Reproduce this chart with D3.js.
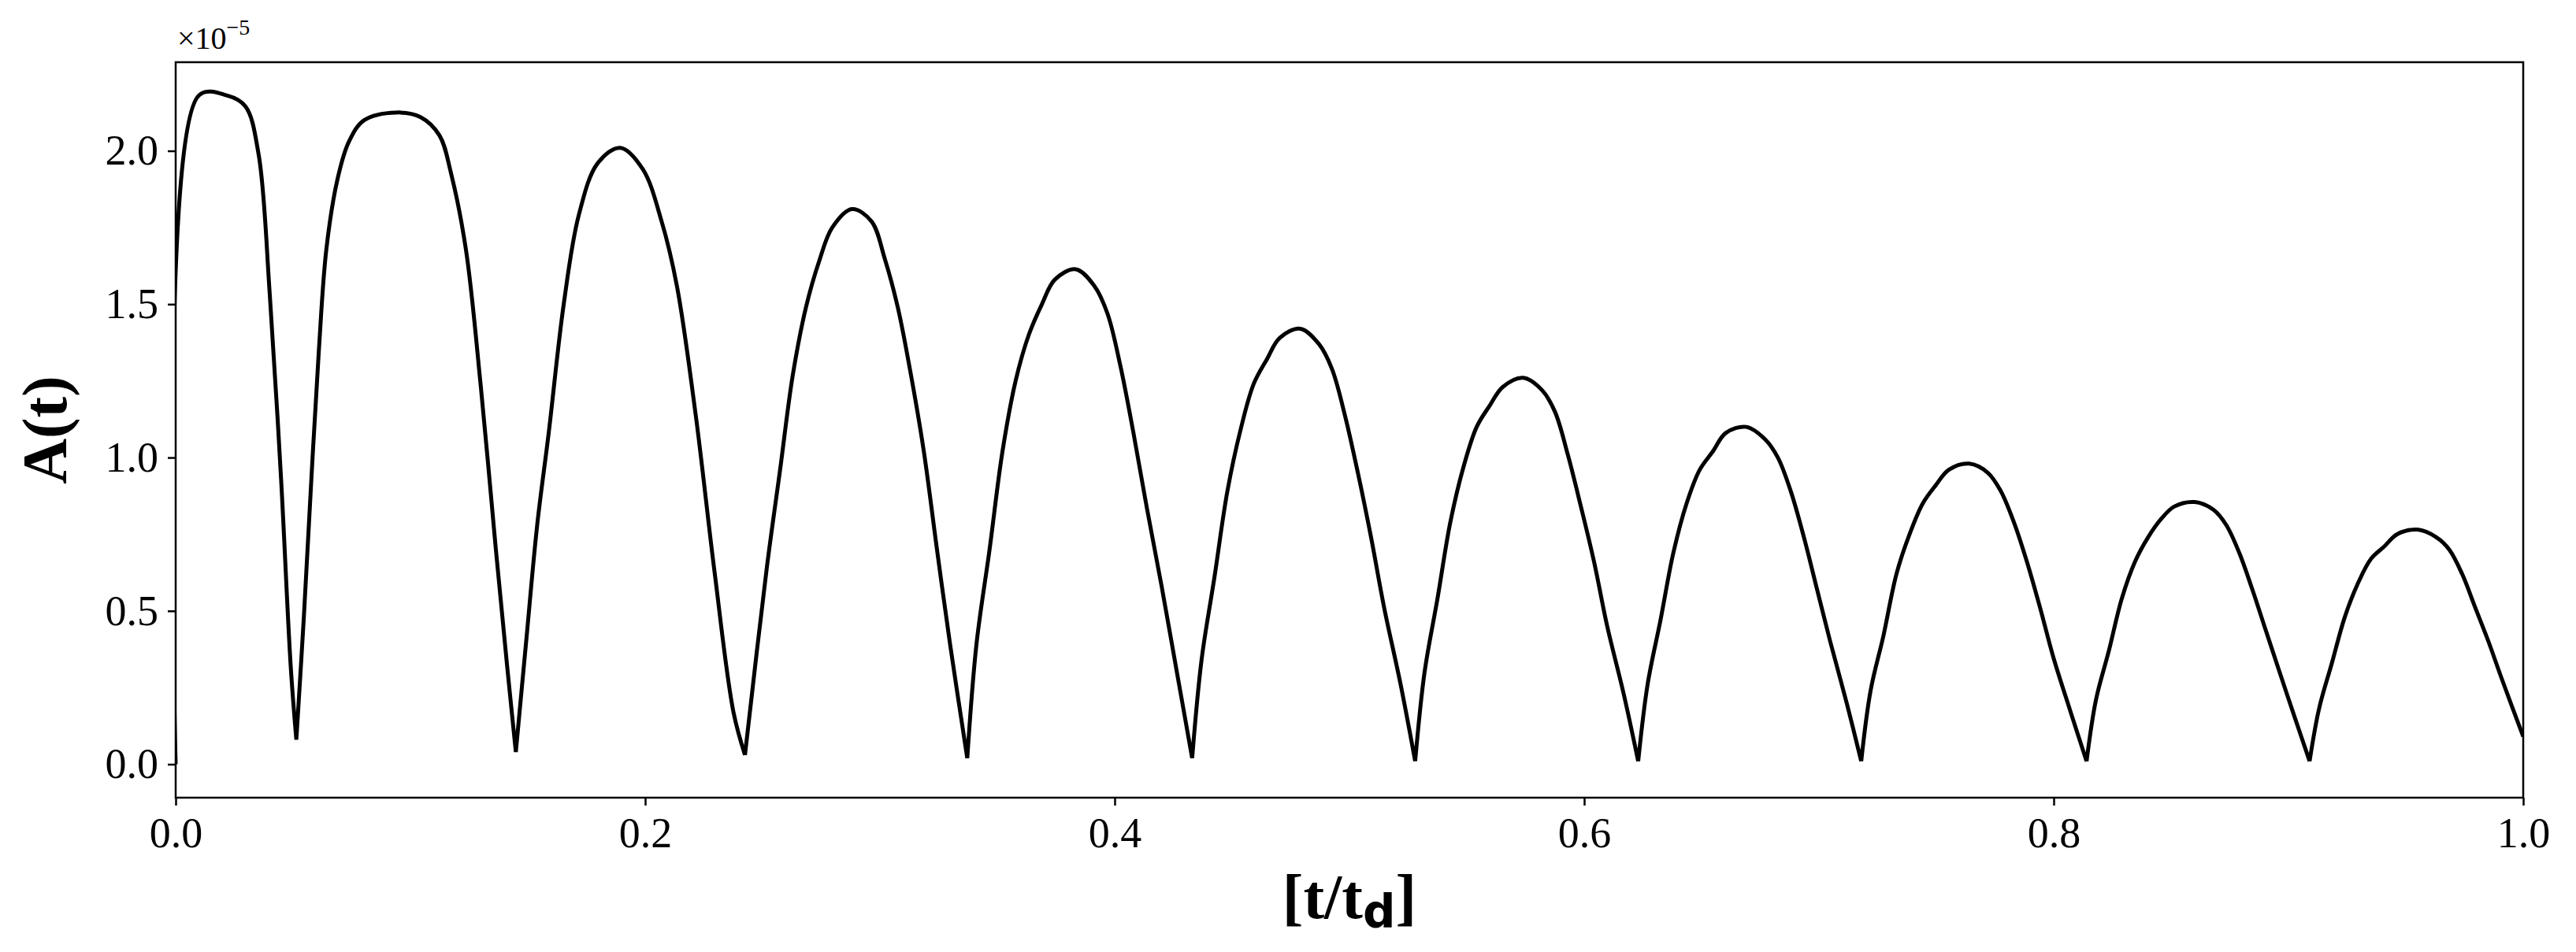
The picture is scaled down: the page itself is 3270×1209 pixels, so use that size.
<!DOCTYPE html>
<html><head><meta charset="utf-8">
<script src="https://cdn.jsdelivr.net/npm/d3@7"></script>
<style>body{margin:0;background:#fff}svg{display:block}</style>
</head><body>
<script>
// time values [t/t_d]
const tValues = [0,0.0098,0.022,0.0297,0.0353,0.0401,0.0449,0.049,0.0514,
0.0546,0.0578,0.061,0.0642,0.069,0.0738,0.0803,0.0939,0.1043,0.1124,0.1172,0.1236,0.130,0.1364,0.1412,0.1449,
0.1493,0.154,0.1589,0.1653,0.1717,0.1798,0.1894,0.199,0.207,0.2135,0.2215,0.2295,0.2376,0.2425,
0.2518,0.2574,0.2629,0.2685,0.2741,0.2797,0.2881,0.2964,0.302,0.3076,0.3132,0.3187,0.3243,0.3299,0.3372,
0.3411,0.3467,0.3522,0.3578,0.3634,0.369,0.3745,0.3834,0.3913,0.3969,0.4024,0.408,0.4136,0.42,0.4265,0.433,
0.437,0.4425,0.448,0.4536,0.4592,0.4648,0.4703,0.479,0.487,0.4925,0.498,0.5036,0.5092,0.5148,0.5218,0.528,
0.532,0.5375,0.543,0.5486,0.5542,0.5598,0.5653,0.574,0.582,0.5875,0.593,0.5986,0.6042,0.6098,0.6168,0.623,
0.627,0.6325,0.638,0.6436,0.6492,0.6548,0.6603,0.669,0.677,0.6825,0.688,0.6936,0.6992,0.7048,0.7118,0.718,
0.722,0.7275,0.733,0.7386,0.7442,0.7498,0.7553,0.764,0.772,0.7775,0.783,0.7886,0.7942,0.7998,0.8068,0.814,
0.818,0.8235,0.829,0.8346,0.8402,0.8458,0.8513,0.860,0.868,0.8735,0.879,0.8846,0.8902,0.8958,0.9028,0.909,
0.913,0.9185,0.924,0.9296,0.9352,0.9408,0.9463,0.955,0.963,0.9685,0.974,0.9796,0.9852,0.9908,1.0];
// A(t) in units of 1e-5
const aValues = [0,2.18,2.18,2.145,1.99,1.53,0.93,0.32,0.08,
0.48,0.93,1.35,1.68,1.91,2.03,2.10,2.125,2.11,2.05,1.93,1.68,1.23,0.70,0.32,0.04,
0.40,0.78,1.08,1.50,1.79,1.96,2.01,1.94,1.77,1.56,1.14,0.63,0.17,0.03,
0.64,0.956,1.27,1.49,1.64,1.75,1.81,1.77,1.65,1.49,1.27,1.02,0.70,0.39,0.02,
0.39,0.70,1.02,1.25,1.40,1.50,1.58,1.614,1.56,1.47,1.30,1.08,0.84,0.58,0.30,0.02,
0.34,0.61,0.89,1.09,1.24,1.32,1.39,1.42,1.37,1.29,1.14,0.95,0.74,0.51,0.26,0.01,
0.30,0.54,0.79,0.97,1.10,1.17,1.23,1.26,1.22,1.15,1.01,0.84,0.66,0.45,0.23,0.01,
0.26,0.47,0.69,0.85,0.96,1.02,1.08,1.10,1.06,1.00,0.89,0.74,0.57,0.40,0.20,0.01,
0.24,0.42,0.62,0.75,0.85,0.91,0.96,0.98,0.95,0.89,0.79,0.66,0.51,0.35,0.18,0.01,
0.21,0.37,0.54,0.66,0.74,0.80,0.84,0.855,0.83,0.78,0.69,0.57,0.44,0.31,0.15,0.01,
0.18,0.33,0.48,0.59,0.67,0.71,0.75,0.765,0.74,0.70,0.62,0.51,0.40,0.28,0.09];
const xTicks = [0,0.2,0.4,0.6,0.8,1.0];
const yTicks = [0,0.5,1.0,1.5,2.0];

const W=3270,H=1209, L=223,R=3203,T=79,B=1013;
const svg=d3.select("body").append("svg").attr("width",W).attr("height",H);
const x=d3.scaleLinear().domain([0,1]).range([L,R]);
const y=d3.scaleLinear().domain([-0.109,2.289]).range([B,T]);
const data=tValues.map((t,i)=>[t,aValues[i]]);
const serif="'Liberation Serif','Times New Roman',serif";

const gx=svg.append("g").attr("transform",`translate(0,${B})`)
 .call(d3.axisBottom(x).tickValues(xTicks).tickFormat(d3.format(".1f")).tickSize(10).tickPadding(12));
const gy=svg.append("g").attr("transform",`translate(${L},0)`)
 .call(d3.axisLeft(y).tickValues(yTicks).tickFormat(d3.format(".1f")).tickSize(10).tickPadding(12));
[gx,gy].forEach(g=>{g.select(".domain").remove();
 g.selectAll("line").attr("stroke","#000").attr("stroke-width",2.5);
 g.selectAll("text").attr("font-family",serif).attr("font-size",54).attr("fill","#000");});
gx.selectAll("text").attr("dy","0.75em");

svg.append("rect").attr("x",L).attr("y",T).attr("width",R-L).attr("height",B-T)
 .attr("fill","none").attr("stroke","#000").attr("stroke-width",2.5);

// split into arches at local minima so cusps stay sharp
const segs=[]; let cur=[data[0]];
for(let i=1;i<data.length;i++){
  cur.push(data[i]);
  if(i<data.length-1 && data[i][1]<data[i-1][1] && data[i][1]<data[i+1][1]){segs.push(cur);cur=[data[i]];}
}
segs.push(cur);
svg.append("defs").append("clipPath").attr("id","c").append("rect")
 .attr("x",L).attr("y",T).attr("width",R-L).attr("height",B-T);
const line=d3.line().x(d=>x(d[0])).y(d=>y(d[1])).curve(d3.curveCatmullRom.alpha(0.5));
svg.append("path").attr("clip-path","url(#c)")
 .attr("d",segs.map(s=>line(s)).join(""))
 .attr("fill","none").attr("stroke","#000").attr("stroke-width",5).attr("stroke-linejoin","round");

const off=svg.append("text").attr("x",L+2).attr("y",62).attr("font-family",serif).attr("font-size",40);
off.append("tspan").text("×10");
off.append("tspan").attr("font-size",28).attr("dy",-18).text("−5");

svg.append("text").attr("transform",`translate(84,${(T+B)/2}) rotate(-90)`)
 .attr("text-anchor","middle").attr("font-family",serif).attr("font-weight","bold").attr("font-size",80).text("A(t)");

const xl=svg.append("text").attr("x",(L+R)/2).attr("y",1166).attr("text-anchor","middle")
 .attr("font-family",serif).attr("font-weight","bold").attr("font-size",80);
xl.append("tspan").text("[t/t");
xl.append("tspan").attr("font-family","'DejaVu Sans',sans-serif").attr("font-size",58).attr("dy",12).text("d");
xl.append("tspan").attr("dy",-12).text("]");
</script>
</body></html>
